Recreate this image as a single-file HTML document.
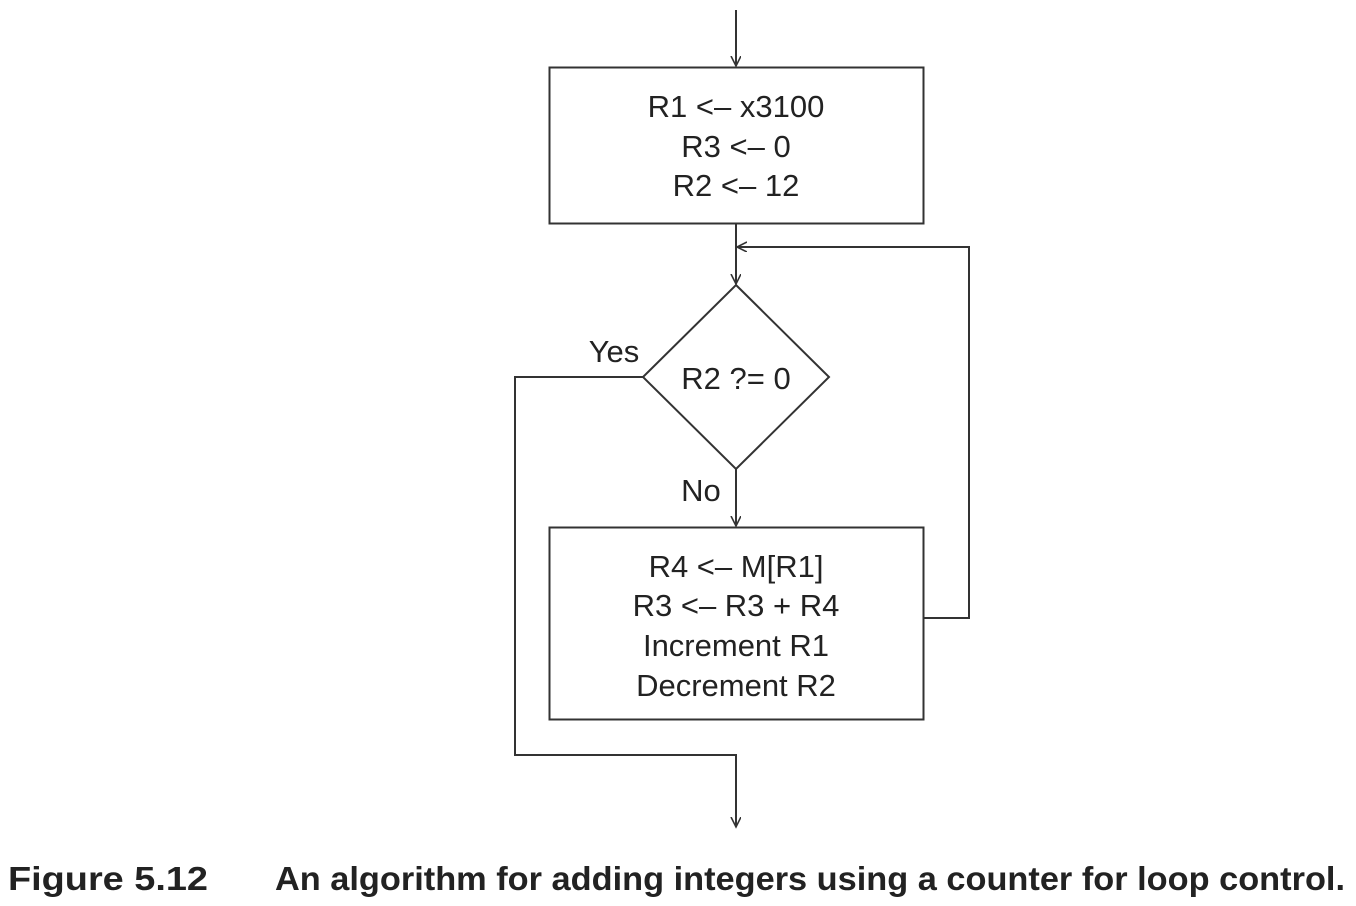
<!DOCTYPE html>
<html><head><style>body{margin:0;background:#fff}svg{display:block}</style></head>
<body>
<svg width="1356" height="906" viewBox="0 0 1356 906" xmlns="http://www.w3.org/2000/svg" font-family="Liberation Sans, sans-serif">
<defs><marker id="a" markerWidth="14" markerHeight="14" refX="10" refY="5" orient="auto" markerUnits="userSpaceOnUse"><path d="M0,0 L10,5 L0,10" fill="none" stroke="#333" stroke-width="1.6"/></marker></defs>
<g stroke="#333" stroke-width="2" fill="none">
<line x1="736" y1="10" x2="736" y2="66" marker-end="url(#a)"/>
<rect x="549.5" y="67.5" width="374" height="156"/>
<line x1="736" y1="224" x2="736" y2="284" marker-end="url(#a)"/>
<polyline points="923,618 969,618 969,247 737,247" marker-end="url(#a)"/>
<polygon points="736,285 829,377 736,469 643,377"/>
<line x1="736" y1="469" x2="736" y2="526" marker-end="url(#a)"/>
<rect x="549.5" y="527.5" width="374" height="192"/>
<polyline points="643,377 515,377 515,755 736,755 736,827" marker-end="url(#a)"/>
</g>
<g font-size="31" fill="#222" text-anchor="middle">
<text x="736" y="117">R1 &lt;– x3100</text>
<text x="736" y="157">R3 &lt;– 0</text>
<text x="736" y="196">R2 &lt;– 12</text>
<text x="736" y="389">R2 ?= 0</text>
<text x="614" y="362">Yes</text>
<text x="701" y="501">No</text>
<text x="736" y="577">R4 &lt;– M[R1]</text>
<text x="736" y="616">R3 &lt;– R3 + R4</text>
<text x="736" y="656">Increment R1</text>
<text x="736" y="696">Decrement R2</text>
</g>
<g font-size="33" font-weight="bold" fill="#222">
<text x="8" y="890" textLength="200" lengthAdjust="spacingAndGlyphs">Figure 5.12</text>
<text x="275" y="890" textLength="1070" lengthAdjust="spacingAndGlyphs">An algorithm for adding integers using a counter for loop control.</text>
</g>
</svg>
</body></html>
